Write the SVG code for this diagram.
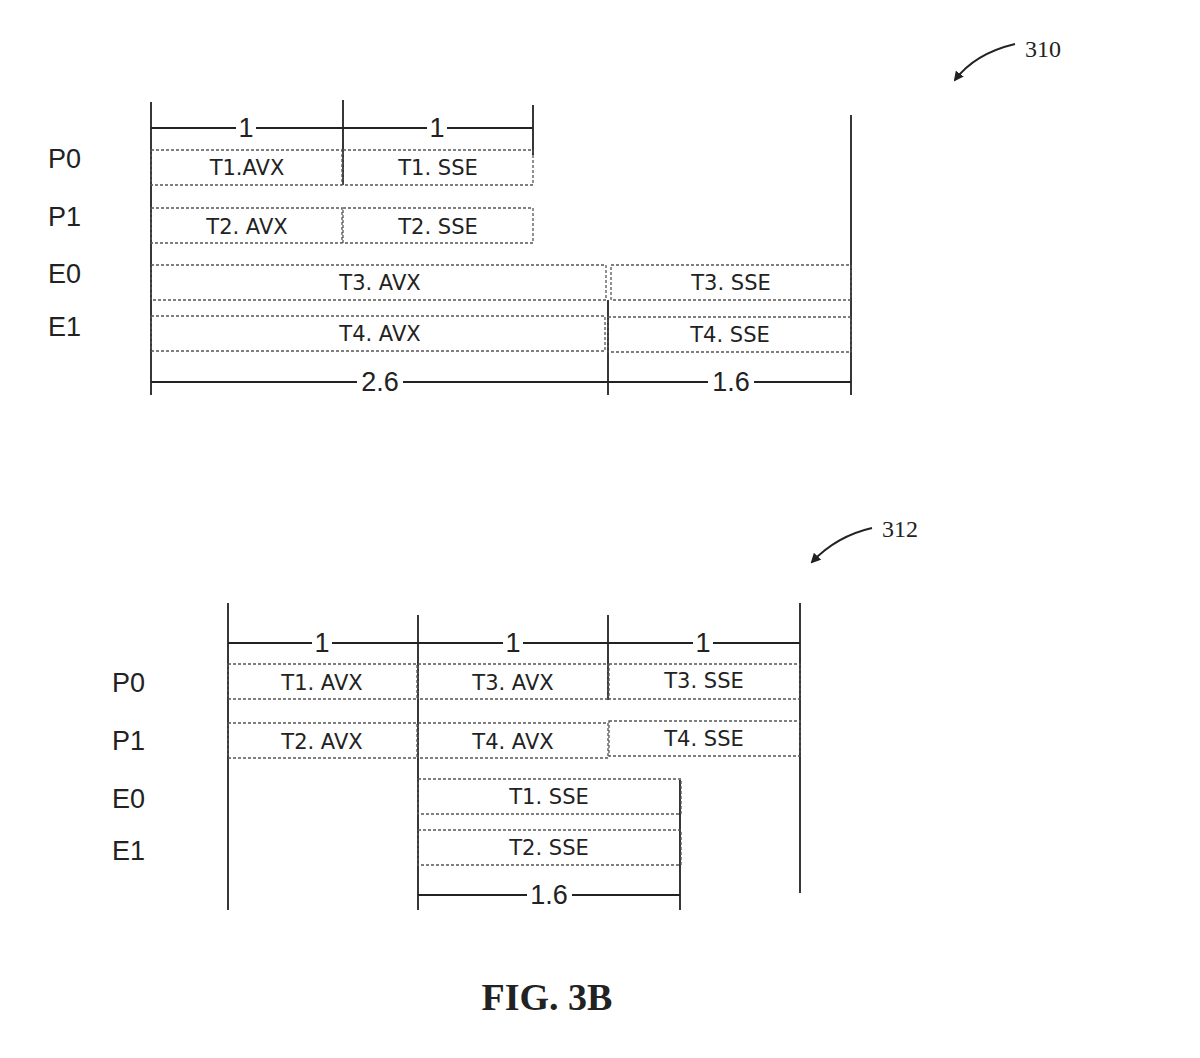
<svg xmlns="http://www.w3.org/2000/svg" width="1200" height="1058" viewBox="0 0 1200 1058">
<style>
.b{fill:none;stroke:#555;stroke-width:1.3;stroke-dasharray:3 2}
.s{stroke:#222;stroke-width:1.8;fill:none}
.t{font-family:"DejaVu Sans",sans-serif;font-size:21px;fill:#222;text-anchor:middle}
.l{font-family:"Liberation Sans",sans-serif;font-size:27px;fill:#222}
.d{font-family:"Liberation Sans",sans-serif;font-size:27px;fill:#222;text-anchor:middle}
.r{font-family:"Liberation Serif",serif;font-size:24px;fill:#222}
</style>
<defs><marker id="a" markerWidth="10" markerHeight="10" refX="8" refY="5" orient="auto" markerUnits="userSpaceOnUse"><path d="M0,0 L10,5 L0,10 Z" fill="#222"/></marker></defs>
<rect width="1200" height="1058" fill="#fff"/>
<g id="connectors">
<path class="s" d="M151,102V395M343,100V185M533,105V155M851,115V395M608,300V395"/>
<path class="s" d="M151,128H236M256,128H427M447,128H533"/>
<path class="s" d="M151,382H357M403,382H608M608,382H708M754,382H851"/>
<path class="s" d="M1015,44 C990,50 970,60 955,80" marker-end="url(#a)"/>
<path class="s" d="M228,603V910M418,615V910M608,615V700M800,603V893M680,780V910"/>
<path class="s" d="M228,643H312M332,643H503M523,643H693M713,643H800"/>
<path class="s" d="M418,895H527M572,895H680"/>
<path class="s" d="M872,528 C850,533 830,543 812,562" marker-end="url(#a)"/>
</g>
<g id="top-labels">
<text class="d" x="246" y="137">1</text><text class="d" x="437" y="137">1</text>
<text class="d" x="380" y="391">2.6</text><text class="d" x="731" y="391">1.6</text>
<text class="l" x="48" y="168">P0</text><text class="l" x="48" y="226">P1</text>
<text class="l" x="48" y="283">E0</text><text class="l" x="48" y="336">E1</text>
<text class="r" x="1025" y="57">310</text>
</g>
<g id="t1avx"><rect class="b" x="151" y="150" width="191" height="35"/><text class="t" x="247" y="175">T1.AVX</text></g>
<g id="t1sse"><rect class="b" x="343" y="150" width="190" height="35"/><text class="t" x="438" y="175">T1. SSE</text></g>
<g id="t2avx"><rect class="b" x="151" y="208" width="191" height="35"/><text class="t" x="247" y="234">T2. AVX</text></g>
<g id="t2sse"><rect class="b" x="343" y="208" width="190" height="35"/><text class="t" x="438" y="234">T2. SSE</text></g>
<g id="t3avx"><rect class="b" x="151" y="265" width="455" height="35"/><text class="t" x="380" y="290">T3. AVX</text></g>
<g id="t3sse"><rect class="b" x="611" y="265" width="240" height="35"/><text class="t" x="731" y="290">T3. SSE</text></g>
<g id="t4avx"><rect class="b" x="151" y="316" width="454" height="35"/><text class="t" x="380" y="341">T4. AVX</text></g>
<g id="t4sse"><rect class="b" x="608" y="317" width="243" height="35"/><text class="t" x="730" y="342">T4. SSE</text></g>
<g id="bottom-labels">
<text class="d" x="322" y="652">1</text><text class="d" x="513" y="652">1</text><text class="d" x="703" y="652">1</text>
<text class="d" x="549" y="904">1.6</text>
<text class="l" x="112" y="692">P0</text><text class="l" x="112" y="750">P1</text>
<text class="l" x="112" y="808">E0</text><text class="l" x="112" y="860">E1</text>
<text class="r" x="882" y="537">312</text>
</g>
<g id="b-t1avx"><rect class="b" x="228" y="664" width="189" height="35"/><text class="t" x="322" y="690">T1. AVX</text></g>
<g id="b-t3avx"><rect class="b" x="418" y="664" width="190" height="35"/><text class="t" x="513" y="690">T3. AVX</text></g>
<g id="b-t3sse"><rect class="b" x="609" y="664" width="191" height="35"/><text class="t" x="704" y="688">T3. SSE</text></g>
<g id="b-t2avx"><rect class="b" x="228" y="723" width="189" height="35"/><text class="t" x="322" y="749">T2. AVX</text></g>
<g id="b-t4avx"><rect class="b" x="418" y="723" width="190" height="35"/><text class="t" x="513" y="749">T4. AVX</text></g>
<g id="b-t4sse"><rect class="b" x="609" y="721" width="191" height="35"/><text class="t" x="704" y="746">T4. SSE</text></g>
<g id="b-t1sse"><rect class="b" x="418" y="779" width="263" height="35"/><text class="t" x="549" y="804">T1. SSE</text></g>
<g id="b-t2sse"><rect class="b" x="418" y="830" width="263" height="35"/><text class="t" x="549" y="855">T2. SSE</text></g>
<text x="547" y="1010" font-family="Liberation Serif,serif" font-weight="bold" font-size="38" text-anchor="middle" fill="#222">FIG. 3B</text>
</svg>
